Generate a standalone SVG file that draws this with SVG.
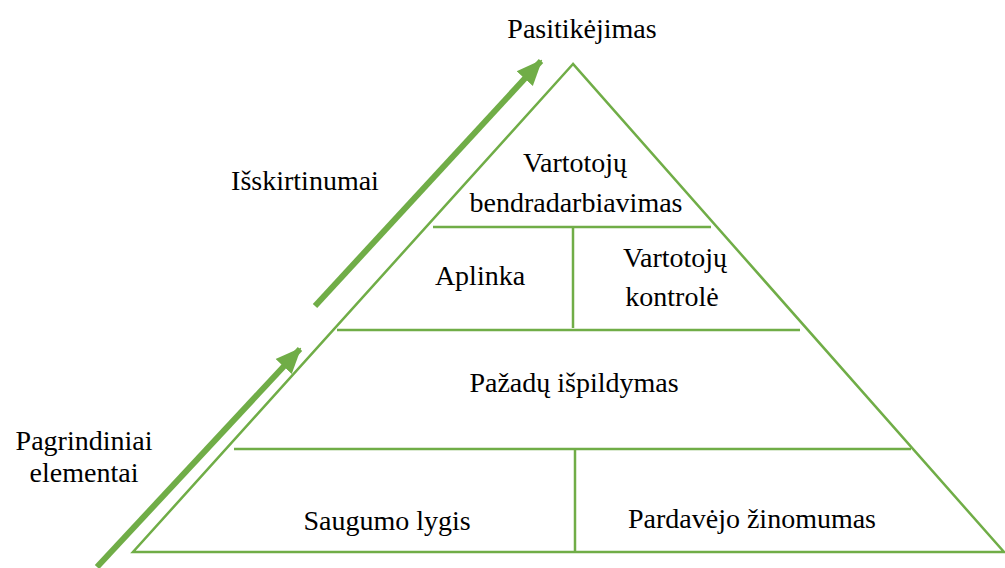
<svg xmlns="http://www.w3.org/2000/svg" width="1005" height="568" viewBox="0 0 1005 568">
  <defs>
    <style>
      .ln { stroke: #70AD47; stroke-width: 2.5; fill: none; }
      .ar { stroke: #70AD47; stroke-width: 6; fill: none; }
      text { font-family: 'Liberation Serif', 'Times New Roman', serif; font-size: 28px; fill: #000; text-anchor: middle; }
    </style>
    <marker id="head" markerUnits="userSpaceOnUse" markerWidth="26" markerHeight="26" viewBox="0 0 26 26" refX="24" refY="13" orient="auto">
      <path d="M0,2 L26,13 L0,24 Z" fill="#70AD47"/>
    </marker>
  </defs>

  <rect width="1005" height="568" fill="#fff"/>

  <!-- pyramid outline and tier dividers -->
  <g id="pyramid">
    <polygon class="ln" points="573,64 133,552 1004,552"/>
    <line class="ln" x1="433" y1="227" x2="711" y2="227"/>
    <line class="ln" x1="573" y1="227" x2="573" y2="328"/>
    <line class="ln" x1="337" y1="330" x2="800" y2="330"/>
    <line class="ln" x1="234" y1="449" x2="911" y2="449"/>
    <line class="ln" x1="575" y1="449" x2="575" y2="551"/>
  </g>

  <!-- rising arrows along the left flank -->
  <g id="connectors">
    <line class="ar" x1="97" y1="567" x2="300" y2="349" marker-end="url(#head)"/>
    <line class="ar" x1="315" y1="306" x2="541" y2="61" marker-end="url(#head)"/>
  </g>

  <g id="apex-label"><text x="582" y="38">Pasitikėjimas</text></g>
  <g id="label-isskirtinumai"><text x="305" y="190">Išskirtinumai</text></g>
  <g id="label-pagrindiniai">
    <text x="84" y="450">Pagrindiniai</text>
    <text x="84" y="482">elementai</text>
  </g>
  <g id="tier-bendradarbiavimas">
    <text x="575" y="172">Vartotojų</text>
    <text x="576" y="212">bendradarbiavimas</text>
  </g>
  <g id="tier-aplinka"><text x="480" y="285">Aplinka</text></g>
  <g id="tier-kontrole">
    <text x="675" y="267">Vartotojų</text>
    <text x="672" y="306">kontrolė</text>
  </g>
  <g id="tier-pazadai"><text x="574" y="392">Pažadų išpildymas</text></g>
  <g id="tier-saugumas"><text x="387" y="530">Saugumo lygis</text></g>
  <g id="tier-zinomumas"><text x="752" y="528">Pardavėjo žinomumas</text></g>
</svg>
